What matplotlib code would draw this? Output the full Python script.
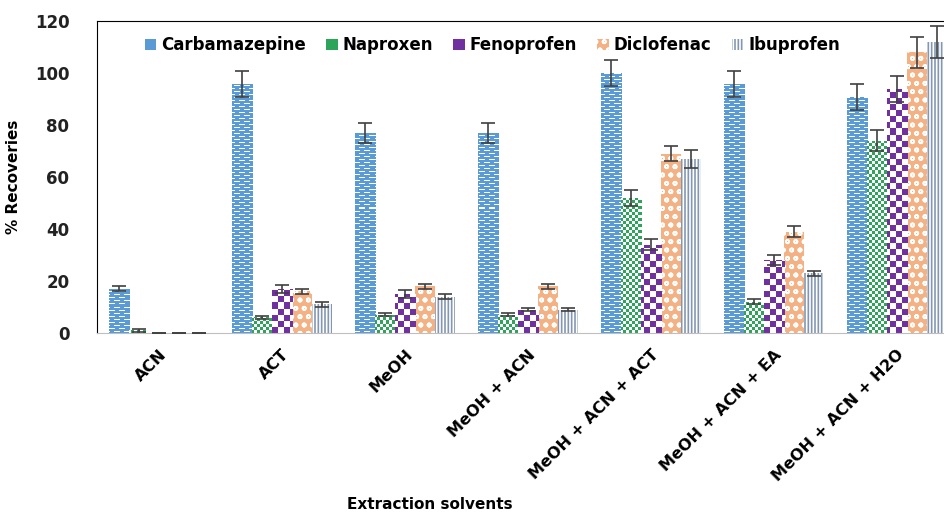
import numpy as np
import matplotlib
matplotlib.use('Agg')
import matplotlib.pyplot as plt
from matplotlib.colors import to_rgb

solvents = ['ACN', 'ACT', 'MeOH', 'MeOH + ACN', 'MeOH + ACN + ACT',
            'MeOH + ACN + EA', 'MeOH + ACN + H2O']
drugs = ['Carbamazepine', 'Naproxen', 'Fenoprofen', 'Diclofenac', 'Ibuprofen']

carbamazepine = [17, 96, 77, 77, 100, 96, 91]
naproxen = [1, 6, 7, 7, 52, 12, 74]
fenoprofen = [0, 17, 15, 9, 34, 28, 94]
diclofenac = [0, 16, 18, 18, 69, 39, 108]
ibuprofen = [0, 11, 14, 9, 67, 23, 112]

carbamazepine_err = [1, 5, 4, 4, 5, 5, 5]
naproxen_err = [0.5, 0.5, 0.5, 0.5, 3, 1, 4]
fenoprofen_err = [0, 1.5, 1.5, 0.5, 2, 2, 5]
diclofenac_err = [0, 1, 1, 1, 3, 2, 6]
ibuprofen_err = [0, 1, 1, 0.5, 3.5, 1, 6]

values = [carbamazepine, naproxen, fenoprofen, diclofenac, ibuprofen]
errors = [carbamazepine_err, naproxen_err, fenoprofen_err, diclofenac_err, ibuprofen_err]

colors = ['#5B9BD5', '#2EA35A', '#7030A0', '#F4B183', '#8497B0']

# small pixel tiles (1 = white)
dash_tile = np.zeros((6, 10), int)
dash_tile[1, 1:7] = 1
dash_tile[4, 6:10] = 1
dash_tile[4, 0:2] = 1
check_small = (np.indices((6, 6)) // 3).sum(axis=0) % 2
check_big = (np.indices((12, 12)) // 6).sum(axis=0) % 2
tiles = {0: dash_tile, 1: check_small, 2: check_big}

plt.rcParams['hatch.linewidth'] = 1.2
fig = plt.figure(figsize=(9.44, 5.17), dpi=100)
ax = fig.add_axes([0.103, 0.356, 0.912, 0.603])
xlim = (-0.5, len(solvents) - 0.5)
ylim = (0, 120)
px_w, px_h = int(round(0.912 * 944)), int(round(0.603 * 517))


def pattern_image(tile, color):
    reps = (px_h // tile.shape[0] + 1, px_w // tile.shape[1] + 1)
    mask = np.tile(tile, reps)[:px_h, :px_w]
    img = np.ones((px_h, px_w, 3))
    img[mask == 0] = to_rgb(color)
    return img


x = np.arange(len(solvents))
w = 0.163
for i in range(5):
    pos = x + (i - 2) * w
    if i in tiles:
        bars = ax.bar(pos, values[i], w, color=colors[i], linewidth=0, label=drugs[i])
        img = pattern_image(tiles[i], colors[i])
        for b in bars:
            im = ax.imshow(img, extent=(xlim[0], xlim[1], ylim[0], ylim[1]), aspect='auto',
                           interpolation='nearest', zorder=2)
            im.set_clip_path(b)
    elif i == 3:
        ax.bar(pos, values[i], w, color=colors[i], edgecolor='white', hatch='oo',
               linewidth=0, label=drugs[i])
    else:
        ax.bar(pos, values[i], w, color='white', edgecolor=colors[i], hatch='|||||',
               linewidth=0, label=drugs[i])
    ax.errorbar(pos, values[i], yerr=errors[i], fmt='none', ecolor='#404040',
                elinewidth=1.2, capsize=5, capthick=1.2, zorder=4)

ax.set_xlim(xlim)
ax.set_ylim(ylim)
ax.set_yticks(range(0, 121, 20))
ax.tick_params(axis='y', labelsize=12, length=0, pad=20, labelcolor='#222222')
ax.tick_params(axis='x', length=0, pad=10)
for t in ax.get_yticklabels():
    t.set_fontweight('bold')
ax.set_xticks(x)
ax.set_xticklabels(solvents, rotation=45, ha='right', rotation_mode='anchor',
                   fontsize=11.5, fontweight='bold')
ax.spines['left'].set_color('black')
ax.spines['top'].set_color('black')
ax.spines['bottom'].set_color('#bfbfbf')
ax.spines['right'].set_visible(False)

ax.set_ylabel('% Recoveries', fontsize=11, fontweight='bold', labelpad=10)
fig.text(0.455, 0.015, 'Extraction solvents', fontsize=11, fontweight='bold', ha='center')

leg = ax.legend(ncol=5, loc='upper center', bbox_to_anchor=(0.459, 1.0), frameon=False,
                prop={'size': 12, 'weight': 'bold'}, handlelength=0.7, handleheight=0.7,
                handletextpad=0.3, columnspacing=1.2)

fig.savefig('out.png', dpi=100)
